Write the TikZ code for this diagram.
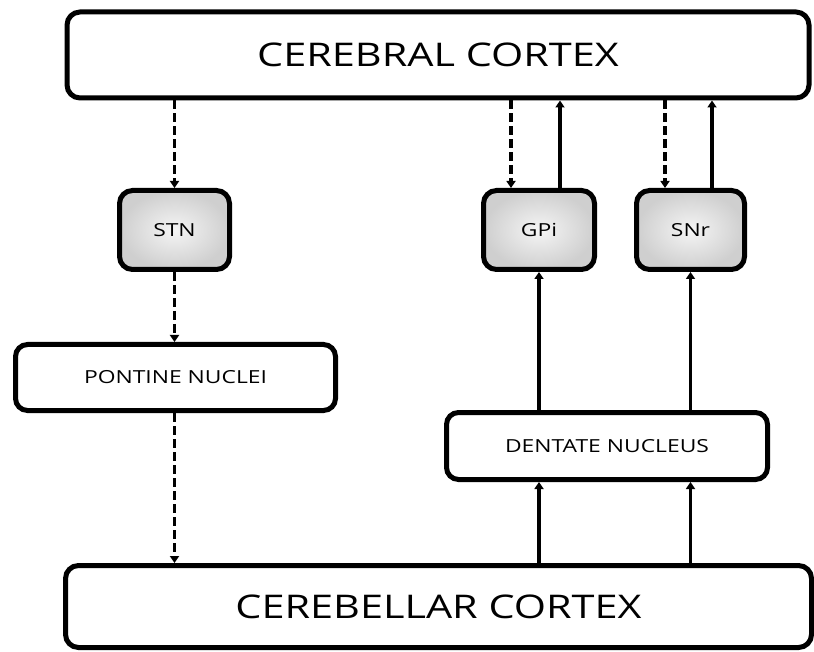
\documentclass[tikz,border=0pt]{standalone}
\usepackage{fontspec}
\setmainfont{Open Sans}[FakeStretch=1.27]
\usetikzlibrary{arrows.meta}
\begin{document}
\begin{tikzpicture}[x=1pt,y=-1pt,
  bigbox/.style={draw=black, line width=5pt, rounded corners=13pt, fill=white, inner sep=0pt, font=\fontsize{32.6}{36}\selectfont},
  midbox/.style={draw=black, line width=5pt, rounded corners=12pt, fill=white, inner sep=0pt, font=\fontsize{18}{20}\selectfont},
  graybox/.style={draw=black, line width=5pt, rounded corners=13pt, inner color=gray!8, outer color=gray!38, inner sep=0pt, font=\fontsize{18}{20}\selectfont, minimum height=79pt},
  solidarr/.style={line width=3.4pt, -{Triangle[width=9pt,length=7pt]}},
  dasharr/.style={line width=3.4pt, dash pattern=on 9pt off 4pt, -{Triangle[width=9pt,length=7pt]}}
]
\useasboundingbox (0,0) rectangle (814,652);
\node[bigbox, minimum width=742pt, minimum height=86pt] (cerebral) at (438,55) {\raisebox{-2pt}{CEREBRAL CORTEX}};
\node[bigbox, minimum width=746pt, minimum height=82pt] (cerebellar) at (438.5,606.5) {\raisebox{-2pt}{CEREBELLAR CORTEX}};
\node[graybox, minimum width=110pt] (stn) at (174.5,230) {STN};
\node[graybox, minimum width=111pt] (gpi) at (539,230) {GPi};
\node[graybox, minimum width=108pt] (snr) at (690.5,230) {SNr};
\node[midbox, minimum width=320pt, minimum height=66pt] (pontine) at (175.5,377.5) {PONTINE NUCLEI};
\node[midbox, minimum width=321pt, minimum height=67pt] (dentate) at (607,446) {DENTATE NUCLEUS};

\coordinate (gd) at ([xshift=-28pt]gpi.north);
\coordinate (gu) at ([xshift=21pt]gpi.north);
\coordinate (sd) at ([xshift=-25.5pt]snr.north);
\coordinate (su) at ([xshift=21.5pt]snr.north);
\coordinate (gb) at (gpi.south);
\coordinate (sb) at (snr.south);

% left path
\draw[dasharr] (cerebral.south -| stn.north) -- (stn.north);
\draw[dasharr] (stn.south) -- (stn.south |- pontine.north);
\draw[dasharr] (stn.south |- pontine.south) -- (stn.south |- cerebellar.north);

% right loops
\draw[dasharr] (gd |- cerebral.south) -- (gd);
\draw[solidarr] (gu) -- (gu |- cerebral.south);
\draw[dasharr] (sd |- cerebral.south) -- (sd);
\draw[solidarr] (su) -- (su |- cerebral.south);

\draw[solidarr] (gb |- dentate.north) -- (gpi.south);
\draw[solidarr] (sb |- dentate.north) -- (snr.south);
\draw[solidarr] (gb |- cerebellar.north) -- (gb |- dentate.south);
\draw[solidarr] (sb |- cerebellar.north) -- (sb |- dentate.south);
\end{tikzpicture}
\end{document}
